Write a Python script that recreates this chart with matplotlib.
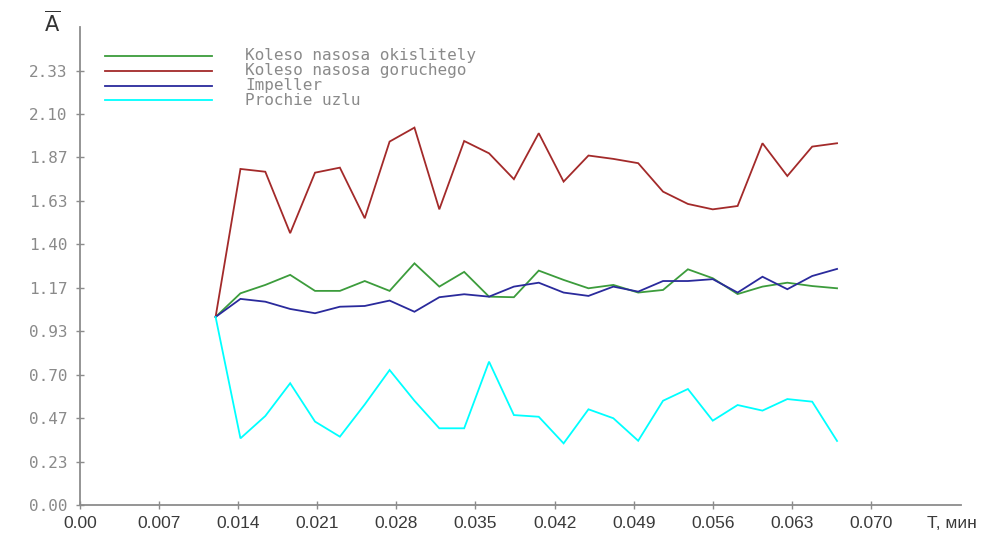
import matplotlib
matplotlib.use("Agg")
import matplotlib.pyplot as plt

# Time samples, min
t = [0.0120, 0.0142, 0.0164, 0.0186, 0.0208, 0.0230, 0.0252, 0.0274, 0.0296,
     0.0318, 0.0340, 0.0362, 0.0384, 0.0406, 0.0428, 0.0450, 0.0472, 0.0494,
     0.0516, 0.0538, 0.0560, 0.0582, 0.0604, 0.0626, 0.0648, 0.0670]

okislitel = [1.01, 1.137, 1.182, 1.236, 1.150, 1.150, 1.203, 1.150, 1.298,
             1.173, 1.252, 1.119, 1.116, 1.259, 1.209, 1.164, 1.182, 1.141,
             1.155, 1.266, 1.218, 1.133, 1.173, 1.194, 1.176, 1.164]

goruchee = [1.01, 1.805, 1.790, 1.460, 1.785, 1.812, 1.540, 1.952, 2.027,
            1.588, 1.955, 1.889, 1.750, 1.997, 1.737, 1.877, 1.859, 1.836,
            1.683, 1.617, 1.588, 1.606, 1.943, 1.767, 1.925, 1.943]

impeller = [1.01, 1.107, 1.092, 1.053, 1.030, 1.065, 1.069, 1.098, 1.038,
            1.116, 1.132, 1.119, 1.173, 1.194, 1.141, 1.123, 1.173, 1.146,
            1.203, 1.203, 1.213, 1.141, 1.226, 1.159, 1.230, 1.268]

prochie = [1.01, 0.358, 0.478, 0.654, 0.448, 0.367, 0.540, 0.725, 0.560,
           0.412, 0.412, 0.770, 0.483, 0.474, 0.331, 0.514, 0.466, 0.345,
           0.560, 0.623, 0.453, 0.537, 0.507, 0.569, 0.555, 0.344]

series_names = ["Koleso nasosa okislitely", "Koleso nasosa goruchego",
                "Impeller", "Prochie uzlu"]
series_colors = ["#3c9c3c", "#a32a2a", "#2a2a9c", "#00ffff"]

y_ticks = [0.0, 0.7 / 3, 1.4 / 3, 0.7, 2.8 / 3, 3.5 / 3, 1.4, 4.9 / 3, 5.6 / 3, 2.1, 7.0 / 3]
y_labels = ["0.00", "0.23", "0.47", "0.70", "0.93", "1.17", "1.40", "1.63", "1.87", "2.10", "2.33"]
x_ticks = [0.0, 0.007, 0.014, 0.021, 0.028, 0.035, 0.042, 0.049, 0.056, 0.063, 0.070]
x_labels = ["0.00", "0.007", "0.014", "0.021", "0.028", "0.035", "0.042", "0.049",
            "0.056", "0.063", "0.070"]

W, H = 982, 534
fig = plt.figure(figsize=(W / 100, H / 100), dpi=100)
fig.patch.set_facecolor("white")

x0, y0, x1, y1 = 80, 505, 961, 26.7
ax = fig.add_axes([x0 / W, (H - y0) / H, (x1 - x0) / W, (y0 - y1) / H])
ax.set_xlim(0, 0.07797)
ax.set_ylim(0, 2.569)

axis_gray = "#8c8c8c"
for side in ("top", "right"):
    ax.spines[side].set_visible(False)
for side in ("left", "bottom"):
    ax.spines[side].set_color(axis_gray)
    ax.spines[side].set_linewidth(1.3)

ax.set_xticks(x_ticks)
ax.set_xticklabels(x_labels, fontfamily="Liberation Sans", fontsize=12.5, color="#3a3a3a")
ax.set_yticks(y_ticks)
ax.set_yticklabels(y_labels, fontfamily="DejaVu Sans Mono", fontsize=11.5, color="#8a8a8a")
ax.tick_params(axis="both", direction="inout", length=6, width=1.0, color=axis_gray)
ax.tick_params(axis="x", pad=5)
ax.tick_params(axis="y", pad=6)

for vals, col in zip([okislitel, goruchee, impeller, prochie], series_colors):
    ax.plot(t, vals, color=col, linewidth=1.3, solid_joinstyle="miter")

# Legend drawn as line samples plus monospace captions
leg_y = [55.7, 70.7, 85.7, 100.3]
for name, col, yy in zip(series_names, series_colors, leg_y):
    fy = (H - yy) / H
    fig.add_artist(plt.Line2D([105 / W, 212 / W], [fy, fy], color=col, linewidth=1.3))
    fig.text(245 / W, fy, name, fontfamily="DejaVu Sans Mono", fontsize=11.5,
             color="#8a8a8a", va="center", ha="left")

# Axis captions
fig.text(52 / W, (H - 23) / H, r"$\overline{\mathsf{A}}$", fontsize=15,
         color="#333333", ha="center", va="center")
fig.text(952 / W, (H - 523) / H, "T, мин", fontfamily="Liberation Sans", fontsize=12.5,
         color="#3a3a3a", ha="center", va="center")

fig.savefig("out.png", dpi=100, facecolor="white")
